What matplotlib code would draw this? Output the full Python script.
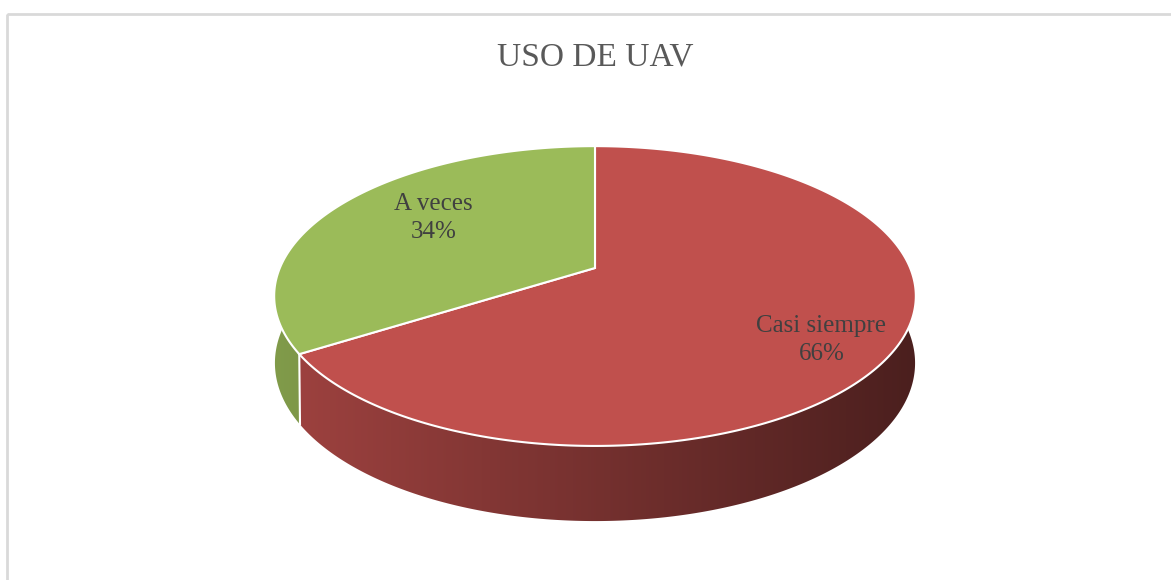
import numpy as np
import matplotlib
matplotlib.use("Agg")
import matplotlib.pyplot as plt
from matplotlib.patches import Polygon, Rectangle

# data
categorias = ["Casi siempre", "A veces"]
valores = [66, 34]
colores = ["#C0504D", "#9BBB59"]
titulo = "USO DE UAV"

# perspectiva del pastel 3D (pixeles)
cx, cy = 595, 268
f = 1497.0
s = 0.459
c = np.sqrt(1 - s**2)
d = 4.75
h = 0.239
conv = 0.1  # cuanto se estrecha la base


def proj(theta, yw, r=1.0):
    X = r * np.sin(theta)
    Z = r * np.cos(theta)
    yc = yw * c + Z * s
    zc = -yw * s + Z * c + d
    return cx + f * X / zc, cy - f * yc / zc


def base_pt(theta):
    xt, yt = proj(theta, 0)
    xb, yb = proj(theta, -h)
    return xt + conv * (xb - xt), yb


fig = plt.figure(figsize=(11.71, 5.80), dpi=100)
ax = fig.add_axes([0, 0, 1, 1])

# borde del grafico
ax.add_patch(Rectangle((6.5, 13.5), 1300, 700, fill=False, edgecolor="#D9D9D9", lw=2))

total = float(sum(valores))
angs = np.cumsum([0] + valores) / total * 2 * np.pi

x_izq, x_der = 274, 916
xs = np.linspace(x_izq - 5, x_der + 5, 700)
t = np.clip((xs - x_izq) / (x_der - x_izq), 0, 1)
factor = 0.83 - 0.44 * t

# paredes laterales con degradado
for i in range(len(valores)):
    a0, a1 = angs[i], angs[i + 1]
    th = np.linspace(a0, a1, 600)
    th = th[np.cos(th) < 0.9]
    if len(th) < 2:
        continue
    arriba = [proj(a, 0) for a in th]
    abajo = [base_pt(a) for a in th[::-1]]
    poly = Polygon(arriba + abajo, closed=True, facecolor="none", edgecolor="none")
    ax.add_patch(poly)
    base = np.array(matplotlib.colors.to_rgb(colores[i]))
    img = np.clip(base[None, None, :] * factor[None, :, None], 0, 1)
    im = ax.imshow(img, extent=(xs[0], xs[-1], 560, 130), aspect="auto",
                   interpolation="bilinear", zorder=1)
    im.set_clip_path(poly)

ax.set_xlim(0, 1171)
ax.set_ylim(580, 0)
ax.axis("off")

# linea blanca entre paredes
for a in angs[:-1]:
    if np.cos(a) < 0.2:
        p0 = proj(a, 0)
        p1 = base_pt(a)
        ax.plot([p0[0], p1[0]], [p0[1], p1[1]], color="white", lw=1.5, zorder=2)

# caras superiores
for i in range(len(valores)):
    th = np.linspace(angs[i], angs[i + 1], 300)
    pts = [proj(a, 0) for a in th] + [(cx, cy)]
    ax.add_patch(Polygon(pts, closed=True, facecolor=colores[i], edgecolor="white",
                         lw=1.5, zorder=3))

# etiquetas
label_r = [0.80, 0.66]
label_giro = [6.0, 5.0]
for i in range(len(valores)):
    am = 0.5 * (angs[i] + angs[i + 1]) + np.radians(label_giro[i])
    lx, ly = proj(am, 0, label_r[i])
    ax.text(lx, ly, f"{categorias[i]}\n{valores[i]}%", ha="center", va="center",
            fontsize=18, color="#404040", family="Liberation Serif",
            linespacing=1.35, zorder=4)

ax.text(595, 57, titulo, ha="center", va="center", fontsize=24,
        color="#595959", family="Liberation Serif")

fig.savefig("out.png", dpi=100)
